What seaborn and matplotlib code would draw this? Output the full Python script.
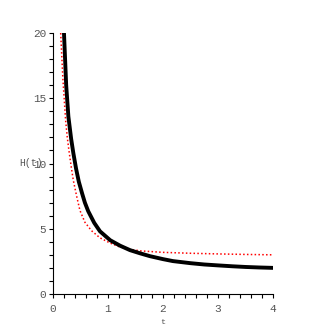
import numpy as np
import pandas as pd
import seaborn as sns
import matplotlib.pyplot as plt
from matplotlib.ticker import MultipleLocator

# values
t_black = [0.20, 0.24, 0.28, 0.33, 0.37, 0.42, 0.47, 0.53, 0.58, 0.64,
           0.75, 0.855, 1.04, 1.22, 1.40, 1.58, 1.76, 2.00, 2.18, 2.50,
           2.75, 3.00, 3.27, 3.50, 3.75, 4.00]
h_black = [20.0, 16.0, 13.6, 11.9, 10.8, 9.6, 8.6, 7.7, 7.0, 6.35,
           5.45, 4.8, 4.12, 3.7, 3.36, 3.12, 2.9, 2.67, 2.52, 2.36,
           2.26, 2.19, 2.12, 2.07, 2.03, 2.0]

t_red = [0.14, 0.18, 0.23, 0.26, 0.29, 0.33, 0.37, 0.43, 0.49, 0.58,
         0.70, 0.855, 1.04, 1.20, 1.40, 1.60, 2.00, 2.50, 3.00, 3.50, 4.00]
h_red = [20.0, 16.5, 13.3, 12.0, 11.0, 9.8, 8.7, 7.5, 6.4, 5.5,
         4.85, 4.3, 3.9, 3.63, 3.42, 3.3, 3.19, 3.12, 3.07, 3.03, 3.0]

x_ticks = [0, 1, 2, 3, 4]
y_ticks = [0, 5, 10, 15, 20]

sns.set_style("ticks")
plt.rcParams['font.family'] = ['Liberation Mono', 'DejaVu Sans Mono']

fig = plt.figure(figsize=(3.27, 3.27), dpi=100)
ax = fig.add_axes([0.162, 0.101, 0.673, 0.798])

df_b = pd.DataFrame({'t': t_black, 'H': h_black})
df_r = pd.DataFrame({'t': t_red, 'H': h_red})
sns.lineplot(data=df_r, x='t', y='H', ax=ax, color='red', lw=1.1,
             linestyle=(0, (1, 1.5)), sort=False)
sns.lineplot(data=df_b, x='t', y='H', ax=ax, color='black', lw=2.8,
             sort=False)

ax.set_xlim(0, 4)
ax.set_ylim(0, 20)
ax.set_xticks(x_ticks)
ax.set_yticks(y_ticks)
ax.xaxis.set_minor_locator(MultipleLocator(0.2))
ax.yaxis.set_minor_locator(MultipleLocator(1))
ax.tick_params(which='both', length=3, width=0.8, color='black',
               labelsize=8, labelcolor='#555555', pad=2)
ax.tick_params(axis='x', pad=4)
sns.despine(ax=ax)
for s in ['left', 'bottom']:
    ax.spines[s].set_linewidth(0.8)
    ax.spines[s].set_color('black')

ax.set_xlabel('t', fontsize=6, color='#555555', va='center')
ax.xaxis.set_label_coords(0.5, -0.108)
ax.set_ylabel('H(t)', fontsize=7, color='#555555', rotation=0,
              ha='center', va='center')
ax.yaxis.set_label_coords(-0.102, 0.5)

fig.savefig('out.png', dpi=100)
